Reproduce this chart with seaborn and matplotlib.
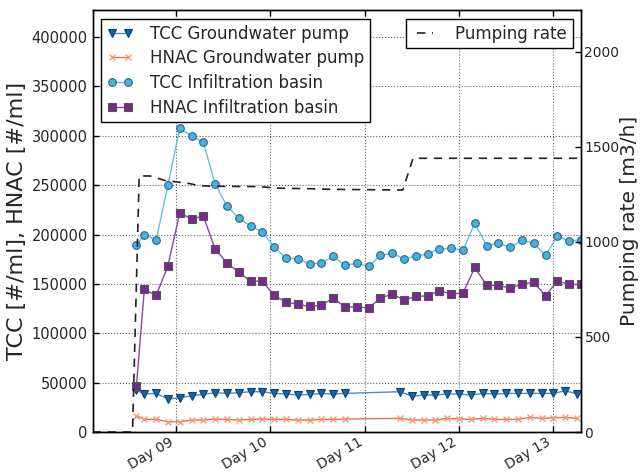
import pandas as pd
import numpy as np
import matplotlib
matplotlib.use("Agg")
import matplotlib.pyplot as plt
import matplotlib.dates as mdates
import seaborn as sns

# hours after Day 08 00:00
basin_hours = [14, 16, 19, 22, 25, 28, 31, 34, 37, 40, 43, 46, 49, 52, 55, 58, 61, 64, 67, 70,
               73, 76, 79, 82, 85, 88, 91, 94, 97, 100, 103, 106, 109, 112, 115, 118, 121, 124, 127]
tcc_basin = [189000, 200000, 194000, 250500, 307500, 300000, 293500, 251300, 229000, 216600,
             208500, 203100, 187200, 176100, 175400, 170300, 171000, 178000, 168700, 171000,
             167700, 178800, 181100, 175400, 178100, 180400, 185500, 186200, 183900, 211500,
             188900, 191300, 187200, 194000, 191300, 178800, 198400, 193300, 194600]
hnac_basin = [47000, 144400, 138300, 168300, 221900, 215900, 218600, 185500, 171300, 161900,
              152800, 152800, 138300, 131600, 129500, 127200, 128500, 135600, 126500, 126800,
              125500, 135600, 139700, 133900, 137300, 138000, 143000, 140000, 140700, 166700,
              148800, 148500, 145700, 150100, 151500, 138000, 153100, 149500, 149500]

pump_hours = [14, 16, 19, 22, 25, 28, 31, 34, 37, 40, 43, 46, 49, 52, 55, 58, 61, 64, 67,
              81, 84, 87, 90, 93, 96, 99, 102, 105, 108, 111, 114, 117, 120, 123, 126]
tcc_pump = [42500, 38500, 39100, 33400, 34700, 36700, 38100, 39800, 39100, 39800,
            40800, 40800, 39100, 38500, 37400, 38100, 39100, 38500, 39100,
            40800, 36400, 37400, 37400, 38500, 38500, 37400, 39100, 38500, 39100,
            39100, 39100, 39100, 39100, 41800, 38500]
hnac_pump = [16500, 12800, 12800, 10400, 10400, 12100, 12100, 13200, 12800, 12100,
             12800, 13200, 12800, 12800, 12100, 12100, 12800, 12800, 13200,
             13800, 12100, 12100, 12100, 13800, 13200, 12800, 13800, 12800, 12800,
             12800, 14800, 13800, 14500, 14800, 13800]

rate_hours = [2.85, 13.0, 14.7, 17.4, 19.2, 21.2, 25.0, 27.0, 30.0, 34.0, 45.0, 50.0, 58.0,
              63.0, 81.7, 84.3, 127.0]
pump_rate = [0, 0, 1346, 1346, 1336, 1322, 1313, 1308, 1295, 1292, 1290, 1282, 1279,
             1276, 1272, 1439, 1439]

base = pd.Timestamp("2016-01-08")
t_basin = base + pd.to_timedelta(basin_hours, unit="h")
t_pump = base + pd.to_timedelta(pump_hours, unit="h")
t_rate = base + pd.to_timedelta(rate_hours, unit="h")

sns.set_style("whitegrid", {
    "axes.edgecolor": "black",
    "grid.color": "#666666",
    "grid.linestyle": ":",
    "xtick.direction": "in",
    "ytick.direction": "in",
    "xtick.top": True,
    "ytick.right": True,
    "xtick.bottom": True,
    "ytick.left": True,
})
plt.rcParams["font.family"] = ["DejaVu Sans"]

fig = plt.figure(figsize=(6.43, 4.74), dpi=100)
ax = fig.add_axes([0.144, 0.0886, 0.7596, 0.8893])

sns.lineplot(x=t_pump, y=tcc_pump, ax=ax, color="#3f8fd2", marker="v", markersize=6,
             markerfacecolor="#1a64a6", markeredgecolor="#123f6a", markeredgewidth=0.8,
             linewidth=1, label="TCC Groundwater pump")
sns.lineplot(x=t_pump, y=hnac_pump, ax=ax, color="#ef6f3f", marker="x", markersize=5,
             markeredgecolor="#f39a78", markeredgewidth=1,
             linewidth=1, label="HNAC Groundwater pump")
sns.lineplot(x=t_basin, y=tcc_basin, ax=ax, color="#5bc3ec", marker="o", markersize=5.5,
             markerfacecolor="#45b2e2", markeredgecolor="#2f6580", markeredgewidth=0.8,
             linewidth=1, label="TCC Infiltration basin")
sns.lineplot(x=t_basin, y=hnac_basin, ax=ax, color="#8e44a8", marker="s", markersize=5.5,
             markerfacecolor="#762a8c", markeredgecolor="#555555", markeredgewidth=0.8,
             linewidth=1, label="HNAC Infiltration basin")

ax2 = ax.twinx()
sns.lineplot(x=t_rate, y=pump_rate, ax=ax2, color="#222222", linestyle=(0, (5, 4)),
             linewidth=1.2, label="Pumping rate")
ax2.grid(False)

ax.set_xlim(base + pd.Timedelta(hours=2.85), base + pd.Timedelta(hours=127))
ax.set_ylim(0, 427000)
ax2.set_ylim(0, 2216)
ax.set_yticks(np.arange(0, 400001, 50000))
ax2.set_yticks([0, 500, 1000, 1500, 2000])
ax.ticklabel_format(axis="y", style="plain")

ax.xaxis.set_major_locator(mdates.DayLocator())
ax.xaxis.set_major_formatter(mdates.DateFormatter("Day %d"))
plt.setp(ax.get_xticklabels(), rotation=30, ha="right")

ax.tick_params(axis="y", labelsize=10.5, length=4, width=1, color="black", pad=3.5)
ax.tick_params(axis="x", labelsize=10, length=4, width=1, color="black", pad=2)
ax2.tick_params(labelsize=10, length=4, width=1, color="black", direction="in", pad=2.5)
ax.set_xlabel("")
ax.set_ylabel("TCC [#/ml], HNAC [#/ml]", fontsize=16, labelpad=3)
ax2.set_ylabel("Pumping rate [m3/h]", fontsize=14.5, labelpad=0.5)

for a in (ax, ax2):
    for s in a.spines.values():
        s.set_color("black")
        s.set_linewidth(1)

leg_kw = dict(fontsize=12, fancybox=False, framealpha=1, edgecolor="black",
              numpoints=2, handlelength=1.6, handletextpad=1.0, labelspacing=0.4,
              borderpad=0.35)
h1, l1 = ax.get_legend_handles_labels()
ax.legend(h1, l1, loc="upper left", **leg_kw)
h2, l2 = ax2.get_legend_handles_labels()
ax2.legend(h2, l2, loc="upper right", **leg_kw)

fig.savefig("out.png", dpi=100)
